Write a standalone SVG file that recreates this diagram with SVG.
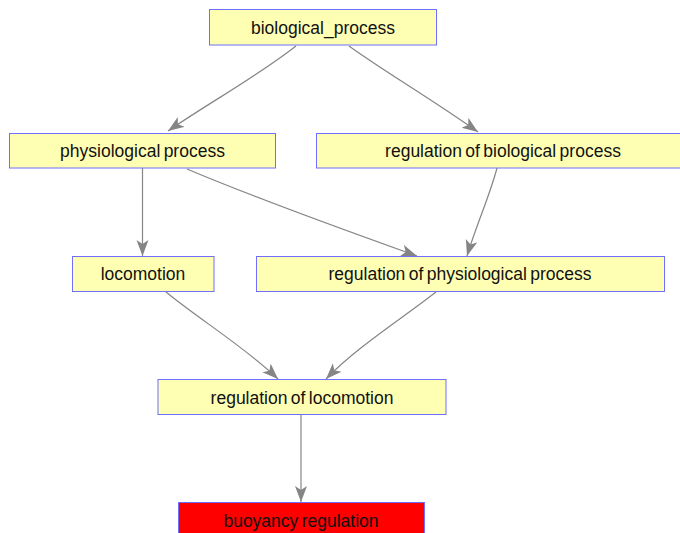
<svg xmlns="http://www.w3.org/2000/svg" width="680" height="533" viewBox="0 0 680 533">
<style>
.node rect{fill:#ffffb4;stroke:#6f6fff;stroke-width:1}
.node text{font-family:"Liberation Sans",Arial,sans-serif;font-size:17.5px;fill:#111;text-anchor:middle;word-spacing:-1.5px}
.edge{fill:none;stroke:#858585;stroke-width:1.2}
</style>
<defs>
<marker id="ah" markerUnits="userSpaceOnUse" markerWidth="18" markerHeight="14" refX="16" refY="6" orient="auto">
<path d="M0,0 L16,6 L0,12 L4,6 z" fill="#858585"/>
</marker>
</defs>
<rect width="680" height="533" fill="#ffffff"/>
<g id="connectors">
<path class="edge" marker-end="url(#ah)" d="M296,46 C255,78 210,102 168,131"/>
<path class="edge" marker-end="url(#ah)" d="M349,46 C385,72 430,98 478,132"/>
<path class="edge" marker-end="url(#ah)" d="M142.5,168 L142.5,256"/>
<path class="edge" marker-end="url(#ah)" d="M187,169 C260,200 350,232 417,256"/>
<path class="edge" marker-end="url(#ah)" d="M497,168 C490,195 476,226 467,256"/>
<path class="edge" marker-end="url(#ah)" d="M166,292 C200,320 245,347 278,379"/>
<path class="edge" marker-end="url(#ah)" d="M436,292 C400,320 357,347 326,379"/>
<path class="edge" marker-end="url(#ah)" d="M301,414 L301,502"/>
</g>
<g id="biological_process" class="node">
<rect x="209.5" y="9.5" width="227" height="35.5"/>
<text x="323" y="33.5">biological_process</text>
</g>
<g id="physiological_process" class="node">
<rect x="9.5" y="133.5" width="266" height="34.5"/>
<text x="142.5" y="157">physiological process</text>
</g>
<g id="regulation_of_biological_process" class="node">
<rect x="316.5" y="133.5" width="365" height="34.5"/>
<text x="503" y="157">regulation of biological process</text>
</g>
<g id="locomotion" class="node">
<rect x="72.5" y="256.5" width="141.5" height="35"/>
<text x="143" y="280">locomotion</text>
</g>
<g id="regulation_of_physiological_process" class="node">
<rect x="256.5" y="256.5" width="408" height="35"/>
<text x="460" y="280">regulation of physiological process</text>
</g>
<g id="regulation_of_locomotion" class="node">
<rect x="158" y="379.5" width="288" height="35"/>
<text x="302" y="403.5">regulation of locomotion</text>
</g>
<g id="buoyancy_regulation" class="node">
<rect x="178.5" y="502.5" width="246" height="35" style="fill:#ff0000"/>
<text x="301" y="527">buoyancy regulation</text>
</g>
</svg>
